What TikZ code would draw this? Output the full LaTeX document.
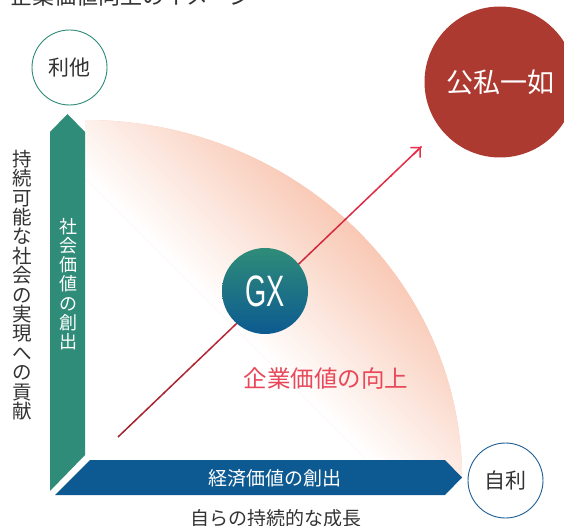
\documentclass[tikz,border=0pt]{standalone}
\usepackage{fontspec}
\setmainfont{Noto Sans CJK JP}
\newfontfamily\gxfont{Liberation Sans}
\usetikzlibrary{arrows.meta,calc}
\definecolor{tealc}{RGB}{47,140,120}
\definecolor{tealm}{RGB}{38,120,125}
\definecolor{bluec}{RGB}{12,90,145}
\definecolor{circblue}{RGB}{29,95,150}
\definecolor{peach}{RGB}{248,196,174}
\definecolor{brick}{RGB}{173,58,49}
\definecolor{darkred}{RGB}{160,36,44}
\definecolor{pinkred}{RGB}{232,45,74}
\definecolor{labelred}{RGB}{232,72,90}
\definecolor{txt}{RGB}{51,51,51}
\tikzset{
  fs/.style={font=\fontsize{#1}{#1}\selectfont},
  ringnode/.style={circle, draw=#1, line width=0.9pt, fill=white, minimum size=75pt, inner sep=0pt, text=txt, fs=21},
  vtext/.style={align=center, inner sep=0pt},
}
\begin{document}
\begin{tikzpicture}[x=1pt,y=-1pt]
\clip (0,0) rectangle (564,526);
\fill[white] (0,0) rectangle (564,526);
% title (cut at top)
\node[anchor=base west, inner sep=0pt, text=txt, fs=22] (title) at (10,5) {企業価値向上のイメージ};
% peach quarter region with diagonal gradient
\begin{scope}
  \clip (85,0) rectangle (564,478);
  \clip (85,478) ellipse [x radius=377, y radius=358];
  \fill[peach] (85,0) rectangle (564,478);
  \fill[white] (-365,-272) -- (835,928) -- (-1000,928) -- (-1000,-272) -- cycle;
  \foreach \dist in {0,...,59} {
    \pgfmathsetmacro\pct{100*\dist/59}
    \pgfmathsetmacro\hA{150+2*\dist}
    \pgfmathsetmacro\hB{152.4+2*\dist}
    \pgfmathsetmacro\xA{\hA-515}
    \pgfmathsetmacro\yA{-\hA-122}
    \pgfmathsetmacro\xB{\hA+685}
    \pgfmathsetmacro\yB{-\hA+1078}
    \pgfmathsetmacro\xC{\hB+685}
    \pgfmathsetmacro\yC{-\hB+1078}
    \pgfmathsetmacro\xD{\hB-515}
    \pgfmathsetmacro\yD{-\hB-122}
    \fill[peach!\pct!white] (\xA,\yA) -- (\xB,\yB) -- (\xC,\yC) -- (\xD,\yD) -- cycle;
  }
\end{scope}
% axis arrows
\fill[tealc] (50,132) -- (67.5,114) -- (85,132) -- (85,455) -- (50,491) -- cycle;
\fill[bluec] (90,460) -- (445,460) -- (462,477.5) -- (445,495) -- (55,495) -- cycle;
\node[vtext, text=white, font=\fontsize{18}{19.2}\selectfont] (social) at (68,284) {社\\会\\価\\値\\の\\創\\出};
\node[text=white, fs=19] (econ) at (275,478) {経済価値の創出};
\node[vtext, text=txt, font=\fontsize{19.5}{19.4}\selectfont] (sust) at (22,285) {持\\続\\可\\能\\な\\社\\会\\の\\実\\現\\へ\\の\\貢\\献};
\node[text=txt, fs=19] (growth) at (276,518) {自らの持続的な成長};
% diagonal arrow
\coordinate (s) at (118,437);
\coordinate (e) at (421,147);
\foreach \k in {0,...,19} {
  \pgfmathsetmacro\a{\k/20}
  \pgfmathsetmacro\b{(\k+1)/20+0.002}
  \pgfmathsetmacro\c{100*\k/19}
  \draw[line width=1.5pt, pinkred!\c!darkred] ($(s)!\a!(e)$) -- ($(s)!\b!(e)$);
}
\draw[line width=1.5pt, pinkred, -{Straight Barb[length=7pt,width=14pt]}] ($(s)!0.97!(e)$) -- (e);
% circles
\node[ringnode=tealc] (rita) at (69.5,67.5) {利他};
\node[ringnode=circblue] (jiri) at (505.5,480.5) {自利};
\node[circle, fill=brick, minimum size=151pt, inner sep=0pt, text=white, fs=27] (koshi) at (500,82) {公私一如};
\node[circle, minimum size=86pt, inner sep=0pt, top color=tealc, middle color=tealm, bottom color=bluec, text=white, font=\gxfont\fontsize{44}{44}\selectfont] (gx) at (265,291) {\scalebox{0.62}[1]{GX}};
\node[text=labelred, fs=23.5] (corp) at (326,379) {企業価値の向上};
\end{tikzpicture}
\end{document}
